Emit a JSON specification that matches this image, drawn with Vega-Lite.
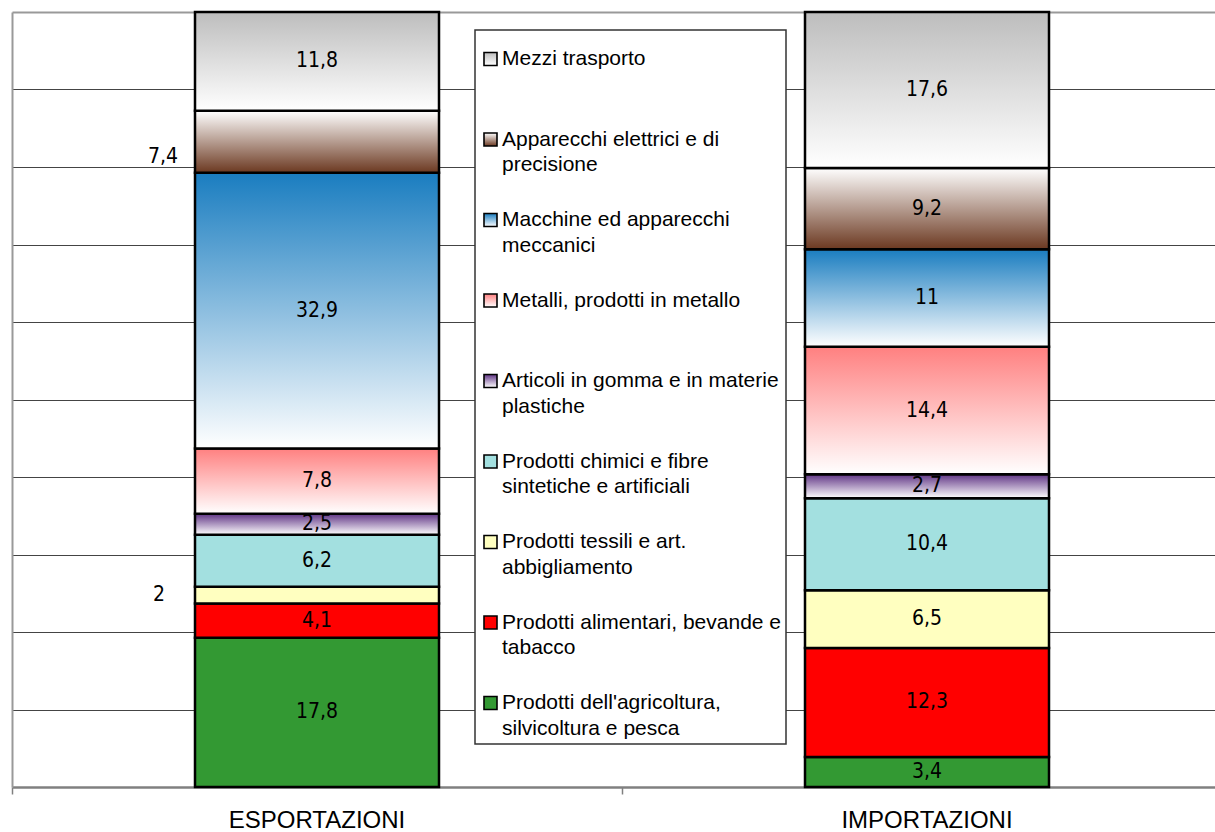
{
  "$schema": "https://vega.github.io/schema/vega-lite/v6.json",
  "width": 1203,
  "height": 775,
  "autosize": {"type": "none"},
  "padding": {"left": 12, "top": 12, "right": 0, "bottom": 45},
  "title": {"text": "EMILIA-ROMAGNA", "fontStyle": "italic", "font": "Liberation Sans", "fontSize": 21, "fontWeight": "normal", "color": "#000000", "anchor": "middle", "frame": "group", "orient": "top", "dx": -25, "dy": 5, "offset": 8, "baseline": "alphabetic"},
  "data": {"values": [
    {"flow": "ESPORTAZIONI", "cat": "Prodotti dell'agricoltura, silvicoltura e pesca", "ord": 1, "value": 17.8},
    {"flow": "ESPORTAZIONI", "cat": "Prodotti alimentari, bevande e tabacco", "ord": 2, "value": 4.1},
    {"flow": "ESPORTAZIONI", "cat": "Prodotti tessili e art. abbigliamento", "ord": 3, "value": 2},
    {"flow": "ESPORTAZIONI", "cat": "Prodotti chimici e fibre sintetiche e artificiali", "ord": 4, "value": 6.2},
    {"flow": "ESPORTAZIONI", "cat": "Articoli in gomma e in materie plastiche", "ord": 5, "value": 2.5},
    {"flow": "ESPORTAZIONI", "cat": "Metalli,  prodotti in metallo", "ord": 6, "value": 7.8},
    {"flow": "ESPORTAZIONI", "cat": "Macchine ed apparecchi meccanici", "ord": 7, "value": 32.9},
    {"flow": "ESPORTAZIONI", "cat": "Apparecchi elettrici e di precisione", "ord": 8, "value": 7.4},
    {"flow": "ESPORTAZIONI", "cat": "Mezzi trasporto", "ord": 9, "value": 11.8},
    {"flow": "IMPORTAZIONI", "cat": "Prodotti dell'agricoltura, silvicoltura e pesca", "ord": 1, "value": 3.4},
    {"flow": "IMPORTAZIONI", "cat": "Prodotti alimentari, bevande e tabacco", "ord": 2, "value": 12.3},
    {"flow": "IMPORTAZIONI", "cat": "Prodotti tessili e art. abbigliamento", "ord": 3, "value": 6.5},
    {"flow": "IMPORTAZIONI", "cat": "Prodotti chimici e fibre sintetiche e artificiali", "ord": 4, "value": 10.4},
    {"flow": "IMPORTAZIONI", "cat": "Articoli in gomma e in materie plastiche", "ord": 5, "value": 2.7},
    {"flow": "IMPORTAZIONI", "cat": "Metalli,  prodotti in metallo", "ord": 6, "value": 14.4},
    {"flow": "IMPORTAZIONI", "cat": "Macchine ed apparecchi meccanici", "ord": 7, "value": 11},
    {"flow": "IMPORTAZIONI", "cat": "Apparecchi elettrici e di precisione", "ord": 8, "value": 9.2},
    {"flow": "IMPORTAZIONI", "cat": "Mezzi trasporto", "ord": 9, "value": 17.6}
  ]},
  "encoding": {
    "x": {
      "field": "flow", "type": "nominal", "sort": ["ESPORTAZIONI", "IMPORTAZIONI"],
      "scale": {"range": [0, 1220], "paddingInner": 0, "paddingOuter": 0},
      "axis": {"title": null, "labelAngle": 0, "labelFont": "Liberation Sans", "labelFontSize": 24, "labelColor": "#000000", "labelBaseline": "alphabetic", "labelPadding": 33, "tickSize": 7, "tickColor": "#808080", "tickWidth": 1.5, "domainColor": "#808080", "domainWidth": 2.5, "bandPosition": 0, "grid": false}
    }
  },
  "layer": [
    {
      "transform": [
        {"stack": "value", "groupby": ["flow"], "sort": [{"field": "ord", "order": "ascending"}], "offset": "normalize", "as": ["y0", "y1"]}
      ],
      "mark": {"type": "bar", "width": {"band": 0.4}, "stroke": "#000000", "strokeWidth": 2.5},
      "encoding": {
        "y": {"field": "y0", "type": "quantitative", "scale": {"domain": [0, 1], "nice": false},
          "axis": {"title": null, "labels": false, "ticks": false, "domain": true, "domainColor": "#999999", "domainWidth": 2, "grid": true,
            "values": [0.1, 0.2, 0.3, 0.4, 0.5, 0.6, 0.7, 0.8, 0.9, 1.0],
            "gridColor": {"condition": {"test": "datum.value >= 0.999", "value": "#999999"}, "value": "#444444"},
            "gridWidth": {"condition": {"test": "datum.value >= 0.999", "value": 2}, "value": 1.2}}},
        "y2": {"field": "y1"},
        "fill": {
          "field": "cat", "type": "nominal",
          "scale": {
            "domain": ["Mezzi trasporto", "Apparecchi elettrici e di precisione", "Macchine ed apparecchi meccanici", "Metalli,  prodotti in metallo", "Articoli in gomma e in materie plastiche", "Prodotti chimici e fibre sintetiche e artificiali", "Prodotti tessili e art. abbigliamento", "Prodotti alimentari, bevande e tabacco", "Prodotti dell'agricoltura, silvicoltura e pesca"],
            "range": [
              {"expr": "{gradient: 'linear', x1: 0, y1: 0, x2: 0, y2: 1, stops: [{offset: 0, color: '#bdbdbd'}, {offset: 1, color: '#ffffff'}]}"},
              {"expr": "{gradient: 'linear', x1: 0, y1: 0, x2: 0, y2: 1, stops: [{offset: 0, color: '#ffffff'}, {offset: 1, color: '#6b3820'}]}"},
              {"expr": "{gradient: 'linear', x1: 0, y1: 0, x2: 0, y2: 1, stops: [{offset: 0, color: '#1a7dc0'}, {offset: 1, color: '#ffffff'}]}"},
              {"expr": "{gradient: 'linear', x1: 0, y1: 0, x2: 0, y2: 1, stops: [{offset: 0, color: '#ff8080'}, {offset: 1, color: '#ffffff'}]}"},
              {"expr": "{gradient: 'linear', x1: 0, y1: 0, x2: 0, y2: 1, stops: [{offset: 0, color: '#603585'}, {offset: 1, color: '#ffffff'}]}"},
              "#a3e0e0",
              "#ffffc0",
              "#ff0000",
              "#339933"
            ]
          },
          "legend": {
            "title": " ", "titleFontSize": 1, "titlePadding": 12.5, "orient": "none", "legendX": 463, "legendY": 18,
            "padding": 5, "strokeColor": "#333333", "fillColor": "#ffffff",
            "symbolType": "square", "symbolSize": 169, "symbolStrokeColor": "#000000", "symbolStrokeWidth": 1.6,
            "labelFont": "Liberation Sans", "labelFontSize": 21, "labelColor": "#000000", "labelLimit": 400, "labelOffset": 1,
            "rowPadding": 33.5,
            "labelExpr": "datum.label == 'Mezzi trasporto' ? ['Mezzi trasporto', ''] : datum.label == 'Apparecchi elettrici e di precisione' ? ['Apparecchi elettrici e di', 'precisione'] : datum.label == 'Macchine ed apparecchi meccanici' ? ['Macchine ed apparecchi', 'meccanici'] : datum.label == 'Metalli,  prodotti in metallo' ? ['Metalli,  prodotti in metallo', ''] : datum.label == 'Articoli in gomma e in materie plastiche' ? ['Articoli in gomma e in materie', 'plastiche'] : datum.label == 'Prodotti chimici e fibre sintetiche e artificiali' ? ['Prodotti chimici e fibre', 'sintetiche e artificiali'] : datum.label == 'Prodotti tessili e art. abbigliamento' ? ['Prodotti tessili e art.', 'abbigliamento'] : datum.label == 'Prodotti alimentari, bevande e tabacco' ? ['Prodotti alimentari, bevande e', 'tabacco'] : ['Prodotti dell\\'agricoltura,', 'silvicoltura e pesca']"
          }
        }
      }
    },
    {
      "transform": [
        {"fold": ["value", "value"], "as": ["k", "v"]},
        {"window": [{"op": "row_number", "as": "copy"}], "groupby": ["flow", "cat"]},
        {"stack": "v", "groupby": ["flow"], "sort": [{"field": "ord", "order": "ascending"}, {"field": "copy", "order": "ascending"}], "offset": "normalize", "as": ["m0", "m1"]},
        {"filter": "datum.copy == 1"},
        {"filter": "!(datum.flow == 'ESPORTAZIONI' && (datum.ord == 3 || datum.ord == 8))"}
      ],
      "mark": {"type": "text", "baseline": "middle", "align": "center", "font": "DejaVu Sans Condensed, DejaVu Sans", "fontSize": 21, "color": "#000000"},
      "encoding": {
        "y": {"field": "m1", "type": "quantitative",
          "axis": {"title": null, "labels": false, "ticks": false, "domain": true, "domainColor": "#999999", "domainWidth": 2, "grid": true,
            "values": [0.1, 0.2, 0.3, 0.4, 0.5, 0.6, 0.7, 0.8, 0.9, 1.0],
            "gridColor": {"condition": {"test": "datum.value >= 0.999", "value": "#999999"}, "value": "#444444"},
            "gridWidth": {"condition": {"test": "datum.value >= 0.999", "value": 2}, "value": 1.2}}},
        "text": {"field": "value", "type": "quantitative", "format": ".3~g"}
      }
    },
    {
      "transform": [
        {"fold": ["value", "value"], "as": ["k", "v"]},
        {"window": [{"op": "row_number", "as": "copy"}], "groupby": ["flow", "cat"]},
        {"stack": "v", "groupby": ["flow"], "sort": [{"field": "ord", "order": "ascending"}, {"field": "copy", "order": "ascending"}], "offset": "normalize", "as": ["m0", "m1"]},
        {"filter": "datum.copy == 1"},
        {"filter": "datum.flow == 'ESPORTAZIONI' && datum.ord == 8"}
      ],
      "mark": {"type": "text", "baseline": "middle", "align": "right", "dx": -139, "dy": 15, "font": "DejaVu Sans Condensed, DejaVu Sans", "fontSize": 21, "color": "#000000"},
      "encoding": {
        "y": {"field": "m1", "type": "quantitative",
          "axis": {"title": null, "labels": false, "ticks": false, "domain": true, "domainColor": "#999999", "domainWidth": 2, "grid": true,
            "values": [0.1, 0.2, 0.3, 0.4, 0.5, 0.6, 0.7, 0.8, 0.9, 1.0],
            "gridColor": {"condition": {"test": "datum.value >= 0.999", "value": "#999999"}, "value": "#444444"},
            "gridWidth": {"condition": {"test": "datum.value >= 0.999", "value": 2}, "value": 1.2}}},
        "text": {"field": "value", "type": "quantitative", "format": ".3~g"}
      }
    },
    {
      "transform": [
        {"fold": ["value", "value"], "as": ["k", "v"]},
        {"window": [{"op": "row_number", "as": "copy"}], "groupby": ["flow", "cat"]},
        {"stack": "v", "groupby": ["flow"], "sort": [{"field": "ord", "order": "ascending"}, {"field": "copy", "order": "ascending"}], "offset": "normalize", "as": ["m0", "m1"]},
        {"filter": "datum.copy == 1"},
        {"filter": "datum.flow == 'ESPORTAZIONI' && datum.ord == 3"}
      ],
      "mark": {"type": "text", "baseline": "middle", "align": "right", "dx": -152, "dy": 0, "font": "DejaVu Sans Condensed, DejaVu Sans", "fontSize": 21, "color": "#000000"},
      "encoding": {
        "y": {"field": "m1", "type": "quantitative",
          "axis": {"title": null, "labels": false, "ticks": false, "domain": true, "domainColor": "#999999", "domainWidth": 2, "grid": true,
            "values": [0.1, 0.2, 0.3, 0.4, 0.5, 0.6, 0.7, 0.8, 0.9, 1.0],
            "gridColor": {"condition": {"test": "datum.value >= 0.999", "value": "#999999"}, "value": "#444444"},
            "gridWidth": {"condition": {"test": "datum.value >= 0.999", "value": 2}, "value": 1.2}}},
        "text": {"field": "value", "type": "quantitative", "format": ".3~g"}
      }
    }
  ],
  "config": {
    "view": {"stroke": null},
    "locale": {"number": {"decimal": ",", "thousands": ".", "grouping": [3], "currency": ["", " €"]}},
    "legend": {"strokeWidth": 1.5},
    "style": {"guide-label": {"lineHeight": 25.5}}
  }
}
